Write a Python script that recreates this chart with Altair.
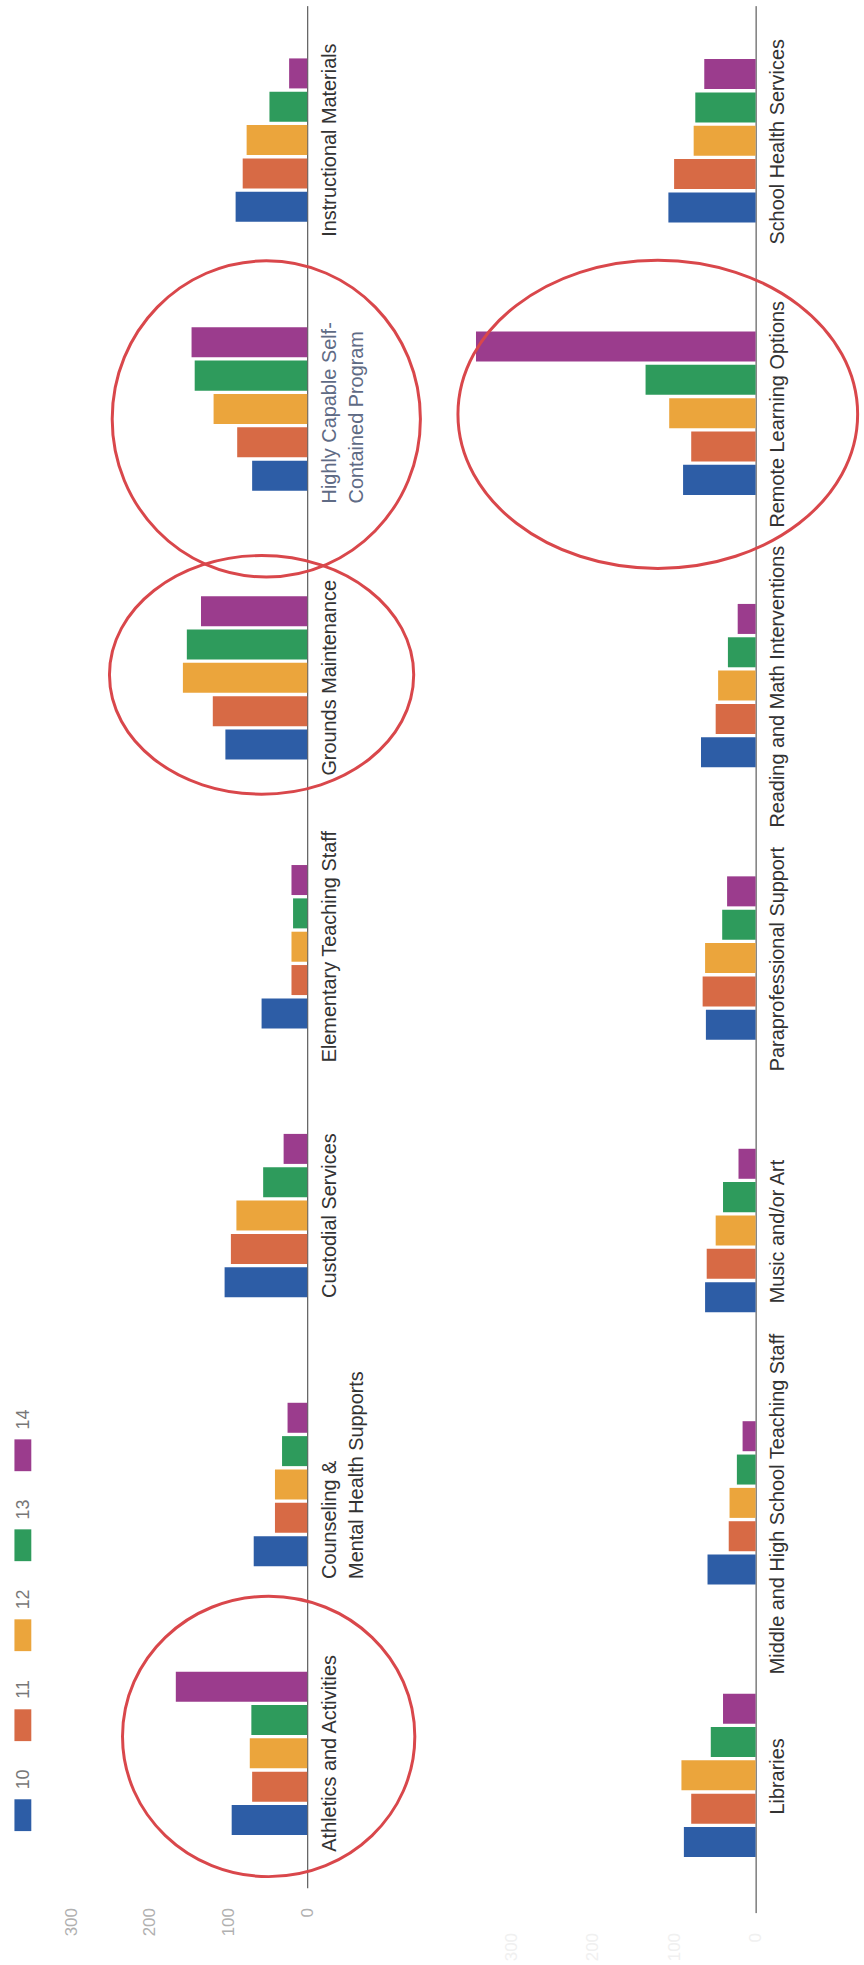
import altair as alt
import pandas as pd

# Survey response counts per budget area, one series per grade level
series = ["10", "11", "12", "13", "14"]
series_colors = ["#2d5da6", "#d76a45", "#eba53c", "#2e9b5c", "#9b3c8d"]

categories_a = [
    "Athletics and Activities",
    "Counseling &\nMental Health Supports",
    "Custodial Services",
    "Elementary Teaching Staff",
    "Grounds Maintenance",
    "Highly Capable Self-\nContained Program",
    "Instructional Materials",
]
values_a = {
    "10": [96, 68, 105, 58, 104, 70, 91],
    "11": [70, 41, 97, 20, 120, 89, 82],
    "12": [73, 41, 90, 20, 158, 119, 77],
    "13": [71, 32, 56, 18, 153, 143, 48],
    "14": [167, 25, 30, 20, 135, 147, 23],
}

categories_b = [
    "Libraries",
    "Middle and High School Teaching Staff",
    "Music and/or Art",
    "Paraprofessional Support",
    "Reading and Math Interventions",
    "Remote Learning Options",
    "School Health Services",
]
values_b = {
    "10": [88, 59, 62, 61, 67, 89, 107],
    "11": [79, 33, 60, 65, 49, 79, 100],
    "12": [91, 32, 49, 62, 46, 106, 76],
    "13": [55, 23, 40, 41, 34, 135, 74],
    "14": [40, 16, 21, 35, 22, 343, 63],
}

axis_ticks = [0, 100, 200, 300]

# Hand-drawn highlight rings: (category, centre value, radius along x, radius along y, vertical shift)
rings_a = [
    ("Athletics and Activities", 49, 147, 141, -17),
    ("Grounds Maintenance", 58, 153, 120, -3),
    ("Highly Capable Self-\nContained Program", 52, 155, 159, 10),
]
rings_b = [
    ("Remote Learning Options", 120, 201, 155, 0),
]

FONT = "Liberation Sans"
RING_COLOR = "#d9474b"
color_scale = alt.Scale(domain=series, range=series_colors)


def long_table(cats, vals):
    rows = []
    for s in series:
        for c, v in zip(cats, vals[s]):
            rows.append({"category": c, "series": s, "value": v})
    return pd.DataFrame(rows)


def ellipse_path(rx, ry):
    r = max(rx, ry)
    a, b = rx / r, ry / r
    k = 0.5523
    return (
        f"M{a},0 C{a},{k*b} {k*a},{b} 0,{b} "
        f"C{-k*a},{b} {-a},{k*b} {-a},0 "
        f"C{-a},{-k*b} {-k*a},{-b} 0,{-b} "
        f"C{k*a},{-b} {a},{-k*b} {a},0 Z"
    ), (2 * r) ** 2


def panel(cats, vals, width, height, domain_max, tick_color, rings):
    order = cats[::-1]
    y_enc = alt.Y(
        "category:N",
        sort=order,
        scale=alt.Scale(paddingInner=0.38, paddingOuter=0.19),
        axis=alt.Axis(
            orient="right",
            title=None,
            ticks=False,
            domain=True,
            domainColor="#3a3a3a",
            domainWidth=1,
            labelAngle=270,
            labelAlign={
                "condition": {"test": "indexof(datum.label, '\\n') >= 0", "value": "left"},
                "value": "center",
            },
            labelOffset={
                "condition": {"test": "indexof(datum.label, '\\n') >= 0", "value": 95},
                "value": 0,
            },
            labelBaseline="top",
            labelPadding=12,
            labelFont=FONT,
            labelFontSize=20,
            labelColor={
                "condition": {"test": "indexof(datum.label, 'Highly') >= 0", "value": "#5f6b85"},
                "value": "#333333",
            },
            labelLimit=600,
            labelLineHeight=28,
            labelOverlap=False,
            labelExpr="split(datum.label, '\\n')",
        ),
    )
    x_scale = alt.Scale(domain=[0, domain_max], reverse=True, nice=False, zero=True)
    x_enc = alt.X(
        "value:Q",
        scale=x_scale,
        axis=alt.Axis(
            values=axis_ticks,
            title=None,
            grid=False,
            ticks=False,
            domain=False,
            labelAngle=270,
            labelFont=FONT,
            labelFontSize=17,
            labelColor=tick_color,
            labelPadding=20,
            labelFlush=False,
        ),
    )
    bars = (
        alt.Chart(long_table(cats, vals))
        .mark_bar(opacity=1)
        .encode(
            x=x_enc,
            y=y_enc,
            yOffset=alt.YOffset(
                "series:N",
                sort=series[::-1],
                scale=alt.Scale(paddingInner=0.1, paddingOuter=0.05),
            ),
            color=alt.Color("series:N", scale=color_scale, legend=None),
        )
    )
    layers = [bars]
    for cat, centre, rx, ry, shift in rings:
        path, size = ellipse_path(rx, ry)
        ring = (
            alt.Chart(pd.DataFrame({"category": [cat], "value": [centre]}))
            .mark_point(
                shape=path,
                size=size,
                filled=False,
                color=RING_COLOR,
                stroke=RING_COLOR,
                strokeWidth=3,
                opacity=1,
                yOffset=shift,
            )
            .encode(
                x=alt.X("value:Q", scale=x_scale),
                y=alt.Y("category:N", sort=order),
            )
        )
        layers.append(ring)
    return alt.layer(*layers).properties(width=width, height=height)


# Legend: tall swatches with rotated labels stacked along the left edge
legend_df = pd.DataFrame({"series": series})
legend_y = alt.Y(
    "series:N",
    sort=series[::-1],
    scale=alt.Scale(type="point", range=[1458, 1820], padding=0),
    axis=None,
)
swatches = (
    alt.Chart(legend_df)
    .mark_point(shape="M-0.53,-1H0.53V1H-0.53Z", size=1024, filled=True, opacity=1, strokeWidth=0)
    .encode(
        x=alt.value(23),
        y=legend_y,
        color=alt.Color("series:N", scale=color_scale, legend=None),
    )
)
swatch_labels = (
    alt.Chart(legend_df)
    .mark_text(angle=270, font=FONT, fontSize=18, color="#777777", yOffset=-36)
    .encode(x=alt.value(24), y=legend_y, text="series:N")
)
legend = alt.layer(swatches, swatch_labels).properties(width=32, height=1893)

panel_a = panel(categories_a, values_a, 277, 1893, 350, "#b0b0b0", rings_a)
panel_b = panel(categories_b, values_b, 451, 1918, 550, "#f0f0f0", rings_b)

chart = (
    alt.hconcat(legend, panel_a, panel_b, spacing=0, bounds="flush")
    .properties(padding={"left": 0, "top": 0, "right": 0, "bottom": 0})
    .configure(background="white")
    .configure_view(stroke=None)
)

chart.save("out.html", embed_options={"renderer": "svg", "actions": False})
